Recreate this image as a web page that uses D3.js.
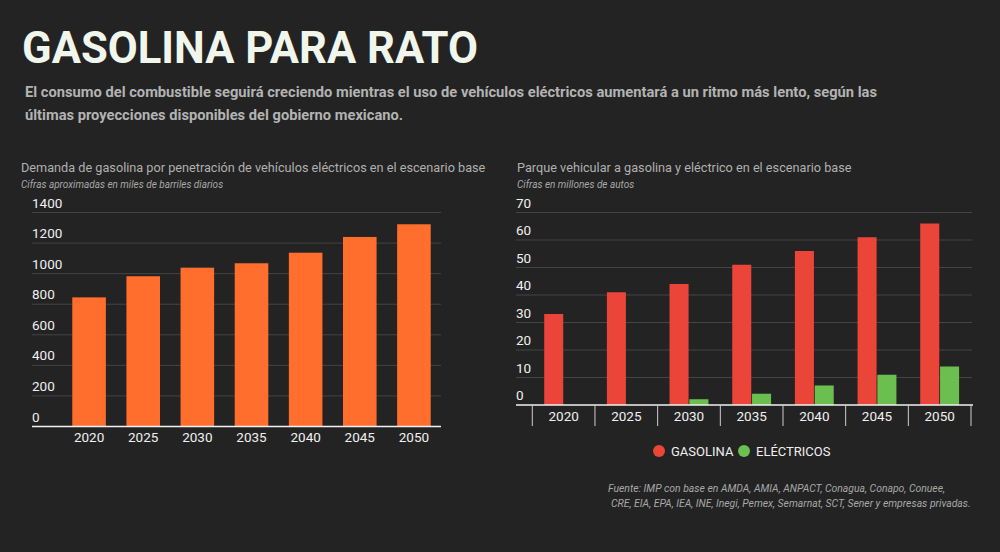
<!DOCTYPE html>
<html>
<head>
<meta charset="utf-8">
<script src="https://cdn.jsdelivr.net/npm/d3@7"></script>
<style>
  body { margin: 0; background: #232323; }
  svg { display: block; font-family: Roboto, "Noto Sans", sans-serif; }
</style>
</head>
<body>
<svg width="1000" height="552"></svg>
<script>
// data
var years = ["2020", "2025", "2030", "2035", "2040", "2045", "2050"];
var demanda = [845, 983, 1039, 1068, 1137, 1240, 1323];
var gasolina = [33.1, 41, 44, 51, 56, 61, 66];
var electricos = [0, 0, 2.1, 4.1, 7.1, 11, 14];
var leftTicks = [0, 200, 400, 600, 800, 1000, 1200, 1400];
var rightTicks = [0, 10, 20, 30, 40, 50, 60, 70];
var seriesNames = ["GASOLINA", "ELÉCTRICOS"];
var seriesColors = ["#ea4538", "#6abf4f"];

var svg = d3.select("svg");
var bg = "#232323";
var gridColor = "#444";
var labelColor = "#f0f0f0";

svg.append("rect").attr("width", 1000).attr("height", 552).attr("fill", bg);

// header
svg.append("text")
    .attr("x", 22).attr("y", 63)
    .attr("font-size", 44).attr("font-weight", 700)
    .attr("fill", "#f0f6ec")
    .attr("textLength", 456).attr("lengthAdjust", "spacingAndGlyphs")
    .text("GASOLINA PARA RATO");

svg.append("text")
    .attr("x", 25).attr("y", 97)
    .attr("font-size", 15).attr("font-weight", 700)
    .attr("fill", "#b3b3b3")
    .attr("textLength", 852).attr("lengthAdjust", "spacingAndGlyphs")
    .text("El consumo del combustible seguirá creciendo mientras el uso de vehículos eléctricos aumentará a un ritmo más lento, según las");
svg.append("text")
    .attr("x", 25).attr("y", 120)
    .attr("font-size", 15).attr("font-weight", 700)
    .attr("fill", "#b3b3b3")
    .attr("textLength", 378).attr("lengthAdjust", "spacingAndGlyphs")
    .text("últimas proyecciones disponibles del gobierno mexicano.");

function chartTitle(x, title, sub) {
    svg.append("text")
        .attr("x", x).attr("y", 172)
        .attr("font-size", 12.7).attr("fill", "#b0b0b0")
        .text(title);
    svg.append("text")
        .attr("x", x).attr("y", 187.5)
        .attr("font-size", 10).attr("font-style", "italic").attr("fill", "#a8a8a8")
        .text(sub);
}

chartTitle(21, "Demanda de gasolina por penetración de vehículos eléctricos en el escenario base",
    "Cifras aproximadas en miles de barriles diarios");
chartTitle(517, "Parque vehicular a gasolina y eléctrico en el escenario base",
    "Cifras en millones de autos");

function grid(g, ticks, yScale, x0, x1) {
    g.selectAll(".grid")
        .data(ticks.filter(d => d != 0))
        .enter().append("line")
        .attr("x1", x0).attr("x2", x1)
        .attr("y1", d => yScale(d)).attr("y2", d => yScale(d))
        .attr("stroke", gridColor).attr("stroke-width", 1);

    g.selectAll(".ylab")
        .data(ticks)
        .enter().append("text")
        .attr("x", x0).attr("y", d => yScale(d) - 5)
        .attr("font-size", 13.5)
        .attr("fill", labelColor)
        .text(d => d);
}

// left chart
var left = svg.append("g");
var yL = d3.scaleLinear().domain([0, 1400]).range([426.5, 212.5]);
var xL = d3.scaleBand().domain(years).range([62, 441]).paddingInner(0.38).paddingOuter(0.19);

grid(left, leftTicks, yL, 32, 441);

left.selectAll(".bar")
    .data(demanda)
    .enter().append("rect")
    .attr("x", (d, i) => xL(years[i]))
    .attr("width", xL.bandwidth())
    .attr("y", d => yL(d))
    .attr("height", d => yL(0) - yL(d))
    .attr("fill", "#ff6e2c");

left.append("line")
    .attr("x1", 32).attr("x2", 441)
    .attr("y1", yL(0)).attr("y2", yL(0))
    .attr("stroke", "#f2f2f2").attr("stroke-width", 1.5);

left.selectAll(".xlab")
    .data(years)
    .enter().append("text")
    .attr("x", d => xL(d) + xL.bandwidth() / 2)
    .attr("y", 442)
    .attr("text-anchor", "middle")
    .attr("font-size", 13.5)
    .attr("fill", labelColor)
    .text(d => d);

// right chart
var right = svg.append("g");
var yR = d3.scaleLinear().domain([0, 70]).range([405, 212.5]);
var xR = d3.scaleBand().domain(years).range([532.3, 971]).paddingInner(0.38).paddingOuter(0.19);
var xSub = d3.scaleBand().domain(seriesNames).range([0, xR.bandwidth()]).paddingInner(0.04);

grid(right, rightTicks, yR, 516, 972);

var groups = right.selectAll(".grp")
    .data(years)
    .enter().append("g")
    .attr("transform", d => "translate(" + xR(d) + ",0)");

groups.selectAll("rect")
    .data((d, i) => [gasolina[i], electricos[i]])
    .enter().append("rect")
    .attr("x", (d, j) => xSub(seriesNames[j]))
    .attr("width", xSub.bandwidth())
    .attr("y", d => yR(d))
    .attr("height", d => yR(0) - yR(d))
    .attr("fill", (d, j) => seriesColors[j]);

right.append("line")
    .attr("x1", 516).attr("x2", 973)
    .attr("y1", yR(0)).attr("y2", yR(0))
    .attr("stroke", "#f2f2f2").attr("stroke-width", 1.5);

// tick marks between categories
var tickPos = years.map(d => xR(d) - xR.step() * xR.paddingOuter());
tickPos.push(xR.range()[1]);
right.selectAll(".tick")
    .data(tickPos)
    .enter().append("line")
    .attr("x1", d => d).attr("x2", d => d)
    .attr("y1", yR(0)).attr("y2", 426)
    .attr("stroke", "#cfcfcf").attr("stroke-width", 1);

right.selectAll(".xlab")
    .data(years)
    .enter().append("text")
    .attr("x", d => xR(d) + xR.bandwidth() / 2)
    .attr("y", 421)
    .attr("text-anchor", "middle")
    .attr("font-size", 13.5)
    .attr("fill", labelColor)
    .text(d => d);

// legend
var legendX = [659, 744];
var legend = right.selectAll(".leg")
    .data(seriesNames)
    .enter().append("g")
    .attr("transform", (d, i) => "translate(" + legendX[i] + ",451)");
legend.append("circle").attr("r", 6).attr("fill", (d, i) => seriesColors[i]);
legend.append("text")
    .attr("x", 12).attr("y", 5)
    .attr("font-size", 13)
    .attr("fill", labelColor)
    .text(d => d);

// source
svg.append("text")
    .attr("x", 608).attr("y", 491.5)
    .attr("font-size", 10.4).attr("font-style", "italic").attr("fill", "#a8a8a8")
    .text("Fuente: IMP con base en AMDA, AMIA, ANPACT, Conagua, Conapo, Conuee,");
svg.append("text")
    .attr("x", 611).attr("y", 506.5)
    .attr("font-size", 10.4).attr("font-style", "italic").attr("fill", "#a8a8a8")
    .text("CRE, EIA, EPA, IEA, INE, Inegi, Pemex, Semarnat, SCT, Sener y empresas privadas.");
</script>
</body>
</html>
